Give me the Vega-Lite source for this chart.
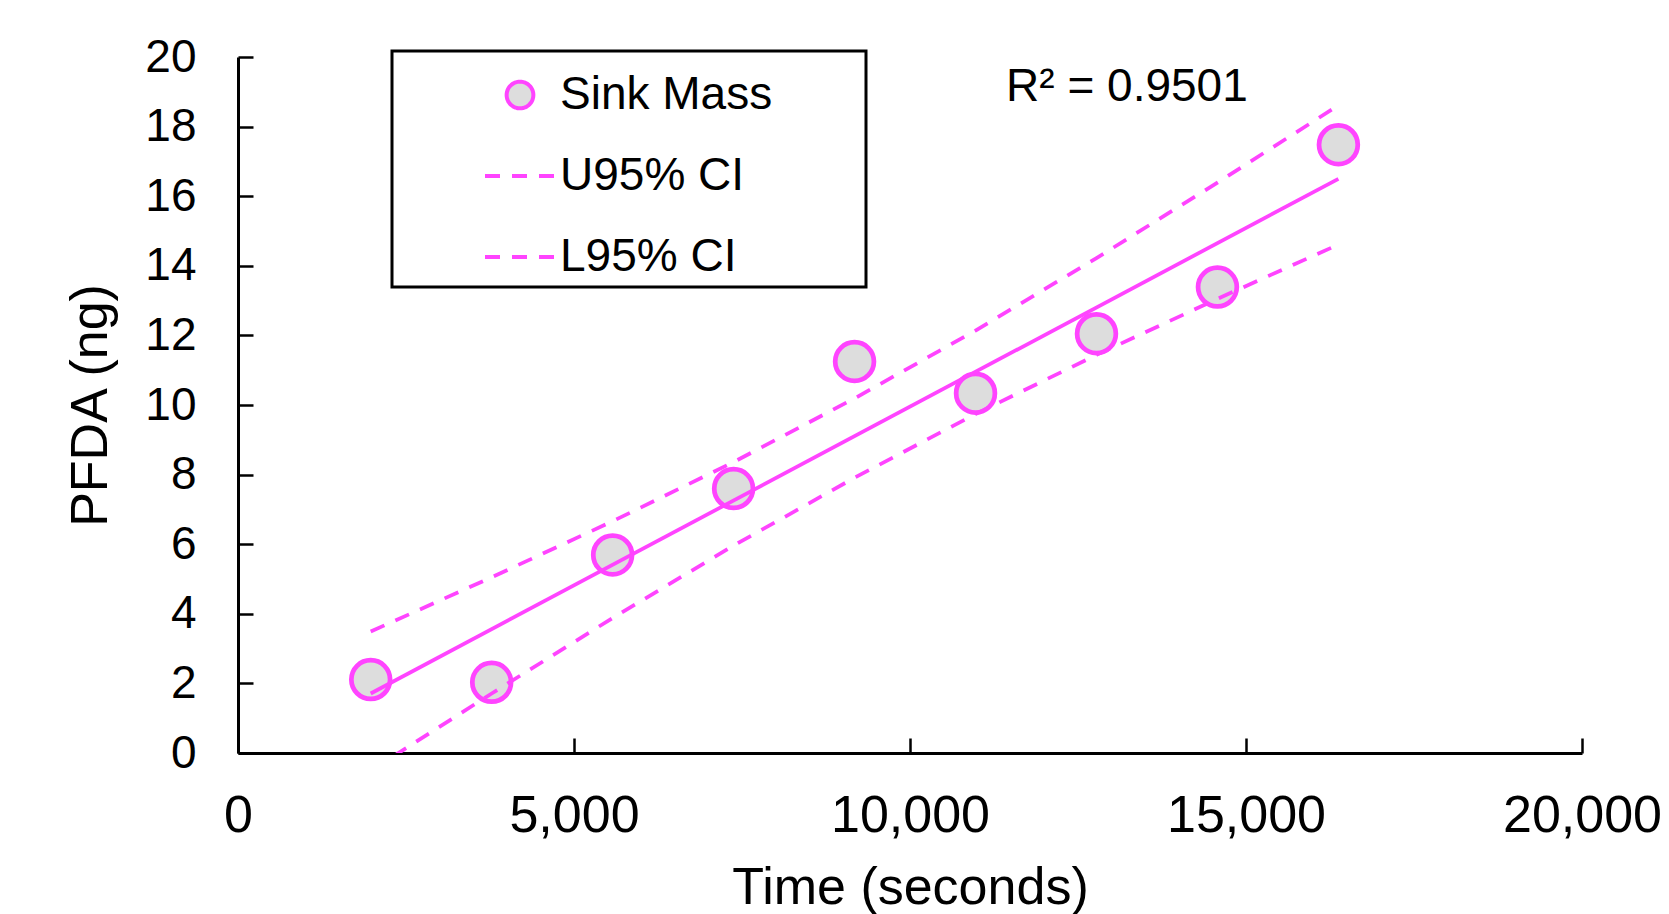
{
  "$schema": "https://vega.github.io/schema/vega-lite/v6.json",
  "width": 1344,
  "height": 696,
  "autosize": {"type": "none"},
  "padding": {"left": 238, "top": 57, "right": 87, "bottom": 161},
  "background": "white",
  "config": {"view": {"stroke": null}, "font": "Liberation Sans"},
  "datasets": {
    "points": [
      {"time": 1975, "pfda": 2.11, "series": "Sink Mass"},
      {"time": 3775, "pfda": 2.03, "series": "Sink Mass"},
      {"time": 5575, "pfda": 5.69, "series": "Sink Mass"},
      {"time": 7375, "pfda": 7.6, "series": "Sink Mass"},
      {"time": 9175, "pfda": 11.25, "series": "Sink Mass"},
      {"time": 10975, "pfda": 10.34, "series": "Sink Mass"},
      {"time": 12775, "pfda": 12.05, "series": "Sink Mass"},
      {"time": 14575, "pfda": 13.39, "series": "Sink Mass"},
      {"time": 16375, "pfda": 17.48, "series": "Sink Mass"}
    ],
    "ci": [
      {"time": 1975, "pfda": 3.49, "series": "U95% CI"},
      {"time": 3775, "pfda": 5.05, "series": "U95% CI"},
      {"time": 5575, "pfda": 6.66, "series": "U95% CI"},
      {"time": 7375, "pfda": 8.36, "series": "U95% CI"},
      {"time": 9175, "pfda": 10.19, "series": "U95% CI"},
      {"time": 10975, "pfda": 12.14, "series": "U95% CI"},
      {"time": 12775, "pfda": 14.22, "series": "U95% CI"},
      {"time": 14575, "pfda": 16.39, "series": "U95% CI"},
      {"time": 16375, "pfda": 18.61, "series": "U95% CI"},
      {"time": 1975, "pfda": -0.51, "series": "L95% CI"},
      {"time": 3775, "pfda": 1.71, "series": "L95% CI"},
      {"time": 5575, "pfda": 3.88, "series": "L95% CI"},
      {"time": 7375, "pfda": 5.96, "series": "L95% CI"},
      {"time": 9175, "pfda": 7.91, "series": "L95% CI"},
      {"time": 10975, "pfda": 9.74, "series": "L95% CI"},
      {"time": 12775, "pfda": 11.44, "series": "L95% CI"},
      {"time": 14575, "pfda": 13.05, "series": "L95% CI"},
      {"time": 16375, "pfda": 14.61, "series": "L95% CI"}
    ],
    "fit": [
      {"time": 1975, "pfda": 1.71},
      {"time": 16375, "pfda": 16.5}
    ],
    "annot": [
      {"label": "R² = 0.9501"}
    ]
  },
  "layer": [
    {
      "data": {"name": "points"},
      "mark": {"type": "point", "filled": false, "fill": "#DDDDDD", "fillOpacity": 1, "opacity": 1, "size": 1500, "strokeWidth": 4.75},
      "encoding": {
        "x": {
          "field": "time", "type": "quantitative",
          "scale": {"domain": [0, 20000], "nice": false},
          "title": "Time (seconds)",
          "axis": {
            "values": [0, 5000, 10000, 15000, 20000], "format": ",.0f", "grid": false,
            "domainColor": "black", "domainWidth": 3, "tickColor": "black", "tickWidth": 2.5, "tickSize": -15,
            "labelFontSize": 52, "labelColor": "black", "labelFont": "Liberation Sans", "labelPadding": 52,
            "labelFlush": false, "labelOverlap": false,
            "titleFontSize": 52, "titleFont": "Liberation Sans", "titleFontWeight": "normal", "titleColor": "black", "titlePadding": 21
          }
        },
        "y": {
          "field": "pfda", "type": "quantitative",
          "scale": {"domain": [0, 20], "nice": false},
          "title": "PFDA (ng)",
          "axis": {
            "values": [0, 2, 4, 6, 8, 10, 12, 14, 16, 18, 20], "grid": false,
            "domainColor": "black", "domainWidth": 3, "tickColor": "black", "tickWidth": 2.5, "tickSize": -15,
            "labelFontSize": 46, "labelColor": "black", "labelFont": "Liberation Sans", "labelPadding": 57,
            "labelFlush": false, "labelOverlap": false,
            "titleFontSize": 52, "titleFont": "Liberation Sans", "titleFontWeight": "normal", "titleColor": "black", "titlePadding": 27
          }
        },
        "color": {
          "field": "series", "type": "nominal",
          "scale": {"domain": ["Sink Mass", "U95% CI", "L95% CI"], "range": ["#FF44FF", "#FF44FF", "#FF44FF"]},
          "legend": {
            "orient": "none", "legendX": 154, "legendY": -6, "title": null,
            "labelFontSize": 46, "labelFont": "Liberation Sans", "labelColor": "black", "labelLimit": 0,
            "labelExpr": "datum.label + '\u00a0\u00a0\u00a0\u00a0\u00a0\u00a0\u2009\u200b'",
            "symbolSize": 4900, "symbolType": "stroke", "symbolOffset": 84, "labelOffset": 3,
            "padding": 7, "rowPadding": 21, "strokeColor": "black",
            "encode": {
              "legend": {"update": {"strokeWidth": {"value": 3}}},
              "symbols": {"update": {
                "shape": {"signal": "datum.value === 'Sink Mass' ? 'circle' : 'stroke'"},
                "size": {"signal": "datum.value === 'Sink Mass' ? 713 : 4900"},
                "strokeDash": {"signal": "datum.value === 'Sink Mass' ? [1, 0] : [15, 12]"},
                "fill": {"signal": "datum.value === 'Sink Mass' ? '#DDDDDD' : 'transparent'"},
                "stroke": {"value": "#FF44FF"},
                "strokeWidth": {"value": 4},
                "opacity": {"value": 1},
                "fillOpacity": {"value": 1}
              }}
            }
          }
        }
      }
    },
    {
      "data": {"name": "ci"},
      "mark": {"type": "line", "strokeWidth": 3.75, "strokeDash": [15, 12], "clip": true},
      "encoding": {
        "x": {"field": "time", "type": "quantitative"},
        "y": {"field": "pfda", "type": "quantitative"},
        "color": {
          "field": "series", "type": "nominal",
          "legend": {
            "orient": "none", "legendX": 154, "legendY": -6, "title": null,
            "labelFontSize": 46, "labelFont": "Liberation Sans", "labelColor": "black", "labelLimit": 0,
            "labelExpr": "datum.label + '\u00a0\u00a0\u00a0\u00a0\u00a0\u00a0\u2009\u200b'",
            "symbolSize": 4900, "symbolType": "stroke", "symbolOffset": 84, "labelOffset": 3,
            "padding": 7, "rowPadding": 21, "strokeColor": "black",
            "encode": {
              "legend": {"update": {"strokeWidth": {"value": 3}}},
              "symbols": {"update": {
                "shape": {"signal": "datum.value === 'Sink Mass' ? 'circle' : 'stroke'"},
                "size": {"signal": "datum.value === 'Sink Mass' ? 713 : 4900"},
                "strokeDash": {"signal": "datum.value === 'Sink Mass' ? [1, 0] : [15, 12]"},
                "fill": {"signal": "datum.value === 'Sink Mass' ? '#DDDDDD' : 'transparent'"},
                "stroke": {"value": "#FF44FF"},
                "strokeWidth": {"value": 4},
                "opacity": {"value": 1},
                "fillOpacity": {"value": 1}
              }}
            }
          }
        }
      }
    },
    {
      "data": {"name": "fit"},
      "mark": {"type": "line", "strokeWidth": 3.75, "color": "#FF44FF"},
      "encoding": {
        "x": {"field": "time", "type": "quantitative"},
        "y": {"field": "pfda", "type": "quantitative"}
      }
    },
    {
      "data": {"name": "annot"},
      "mark": {"type": "text", "align": "left", "baseline": "alphabetic", "fontSize": 46, "font": "Liberation Sans", "color": "black"},
      "encoding": {
        "x": {"datum": 11430, "type": "quantitative"},
        "y": {"datum": 18.73, "type": "quantitative"},
        "text": {"field": "label"}
      }
    }
  ]
}
